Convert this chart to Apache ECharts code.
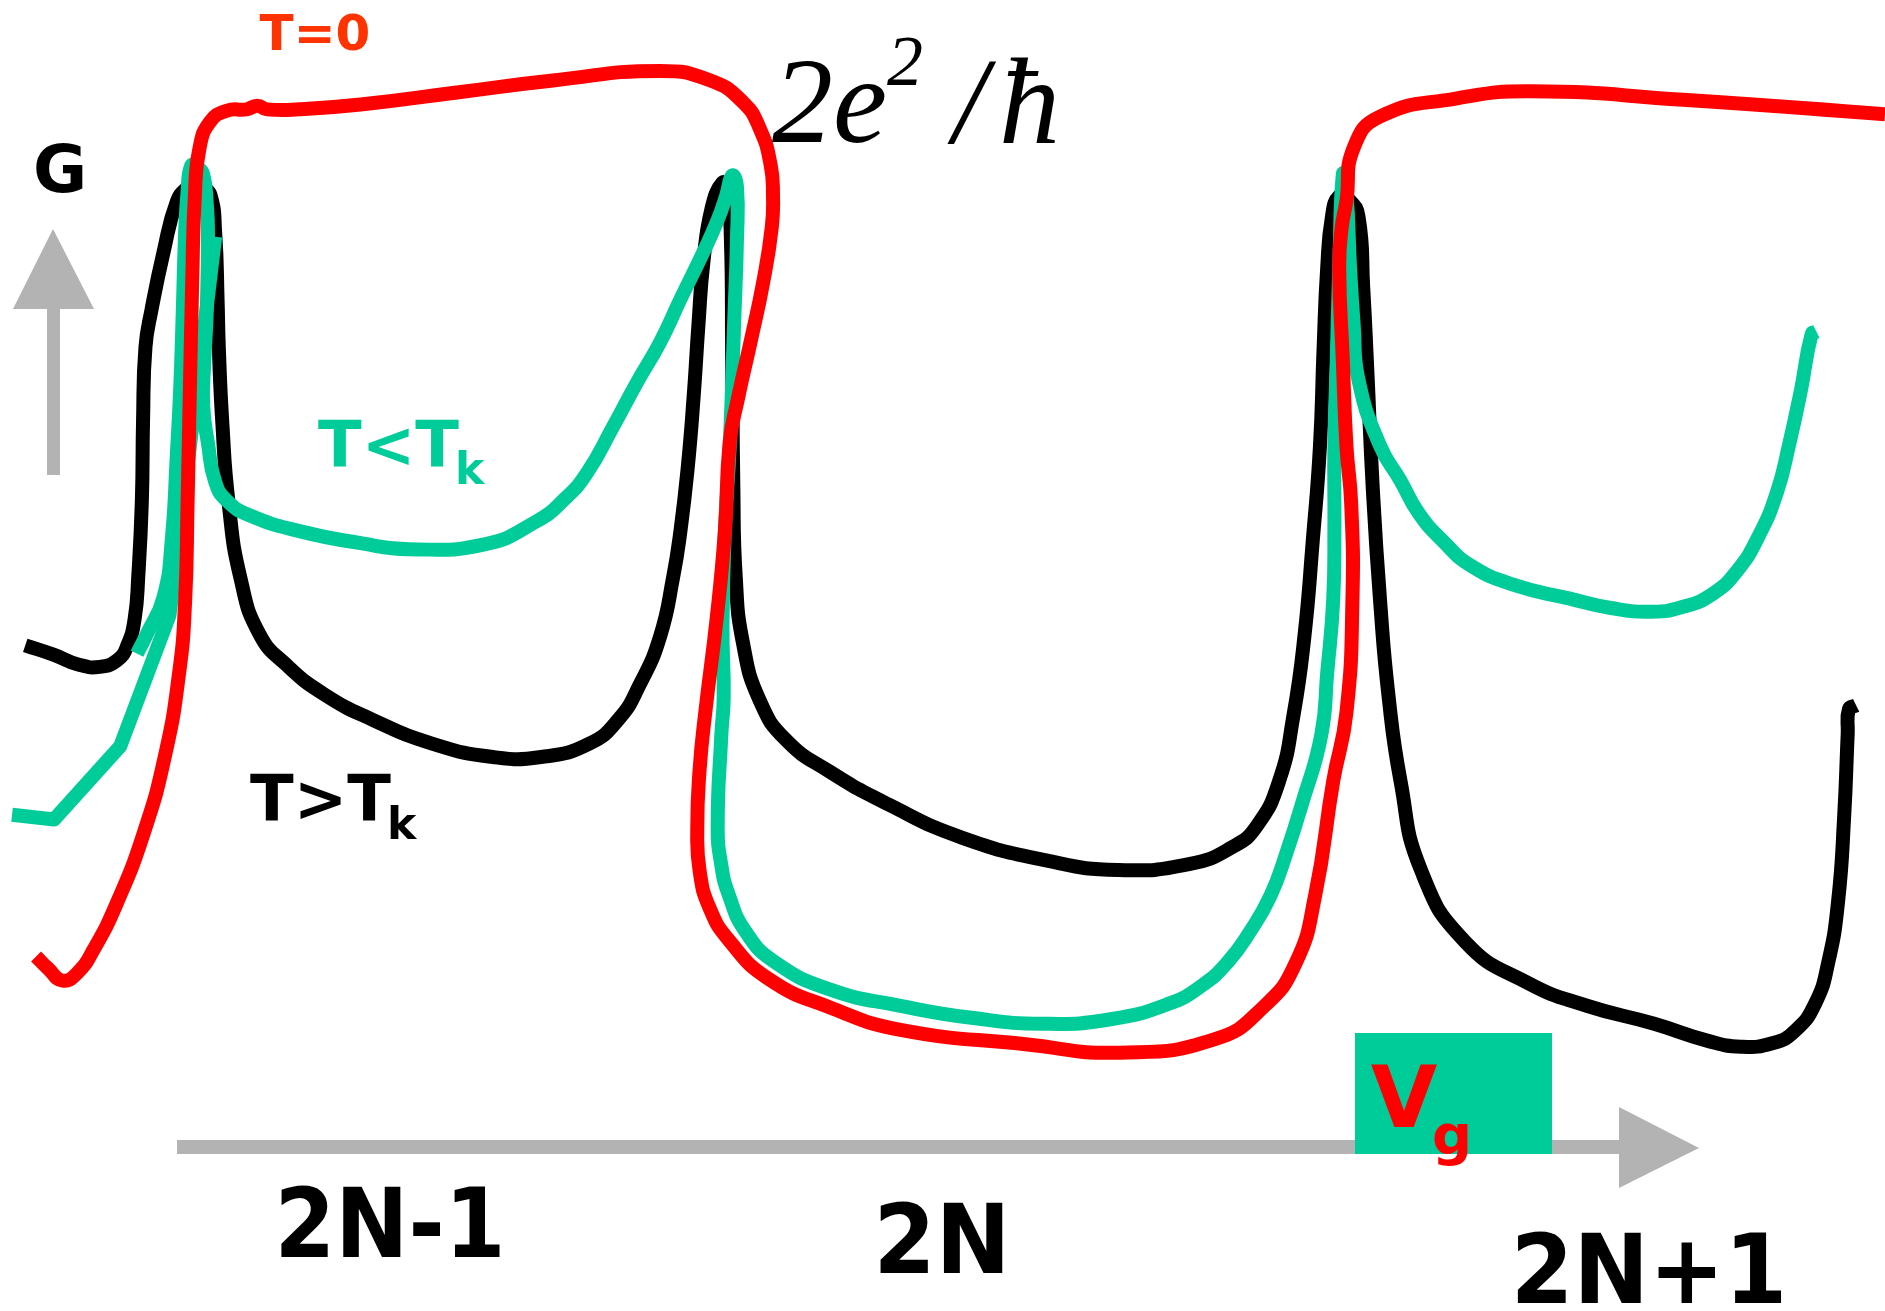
<!DOCTYPE html>
<html>
<head>
<meta charset="utf-8">
<script src="https://cdn.jsdelivr.net/npm/echarts@6/dist/echarts.min.js"></script>
<style>
html,body{margin:0;padding:0;background:#fff;}
#chart{width:1885px;height:1311px;}
</style>
</head>
<body>
<div id="chart"></div>
<script>
// Schematic coordinates: x = gate voltage (arbitrary units 0..1568), y = conductance drawn top-down (0..1091)
const blackCurve = [[21,537],[45,545],[65,553],[83,555],[98,549],[106,537],[112,515],[115,480],[118,417],[119,350],[121,289],[126,258],[136,210],[147,168],[156,156],[162,154],[168,156],[175,162],[179,194],[181,250],[182,289],[185,353],[190,417],[200,481],[216,528],[239,554],[270,578],[310,599],[360,619],[410,630],[450,630],[490,619],[515,598],[532,570],[549,530],[560,480],[566,442],[572,390],[577,330],[581,270],[585,219],[592,173],[601,152],[605,158],[608,200],[609,293],[610,404],[612,480],[618,535],[632,583],[654,616],[690,642],[740,670],[800,697],[870,716],[930,724],[990,719],[1025,705],[1045,688],[1064,650],[1076,595],[1085,530],[1092,450],[1098,371],[1101,290],[1104,223],[1108,180],[1114,163],[1122,166],[1130,180],[1134,240],[1137,300],[1142,408],[1148,500],[1155,579],[1165,650],[1182,724],[1219,784],[1271,818],[1320,837],[1376,852],[1420,866],[1448,871],[1475,868],[1493,858],[1510,835],[1521,800],[1529,750],[1534,680],[1537,610],[1538,590],[1544,587]];
const redCurve = [[30,796],[40,806],[52,816],[64,810],[78,790],[97,752],[119,695],[137,630],[149,560],[154,500],[156,420],[158,321],[160,230],[162,165],[166,123],[175,101],[189,92],[205,91],[214,88],[222,91],[249,91],[300,87],[380,77],[460,67],[549,59],[591,67],[618,85],[632,107],[641,137],[643,163],[642,189],[635,234],[624,286],[614,331],[607,368],[603,442],[596,516],[587,590],[582,640],[580,690],[582,725],[590,755],[606,782],[640,815],[692,839],[749,857],[853,869],[932,876],[1010,865],[1051,838],[1078,801],[1094,745],[1109,650],[1120,593],[1125,499],[1124,420],[1120,371],[1117,300],[1114,223],[1116,190],[1120,167],[1126,123],[1148,97],[1211,82],[1274,76],[1400,83],[1568,95]];
const greenCurve = [[114,544],[122,528],[136,497],[143,448],[147,380],[150,321],[152,260],[154,194],[156,160],[159,138],[164,139],[169,145],[172,170],[173,194],[172,258],[170,300],[169,337],[173,369],[179,401],[189,417],[208,429],[249,442],[300,452],[340,457],[403,453],[446,434],[470,415],[488,394],[510,355],[530,318],[549,285],[566,249],[585,210],[597,183],[604,163],[609,146],[613,155],[613,200],[611,260],[607,371],[603,440],[601,520],[602,580],[600,612],[597,688],[600,720],[606,744],[620,775],[645,801],[692,824],[749,837],[808,847],[868,852],[925,848],[973,835],[1000,820],[1021,801],[1040,775],[1057,745],[1070,710],[1083,669],[1099,612],[1104,560],[1109,499],[1110,440],[1110,371],[1112,300],[1114,223],[1117,145],[1120,160],[1123,223],[1126,270],[1130,316],[1148,371],[1165,400],[1180,427],[1200,450],[1224,471],[1260,487],[1305,498],[1340,506],[1374,509],[1400,505],[1425,494],[1445,475],[1463,446],[1478,410],[1488,371],[1498,325],[1507,278],[1511,276]];
const greenLeg = [[10,678],[45,682],[100,621],[141,512],[179,197]];
const tickLabels = ['2N-1', '2N', '2N+1'];

const GRAY = '#b3b3b3', GREEN = '#00cc99', RED = '#ff0000';
const chart = echarts.init(document.getElementById('chart'), null, {renderer: 'canvas'});

// Chord-weighted cardinal spline through pixel points -> SVG path data
function curvePath(pts, s) {
  const n = pts.length;
  const dist = (a, b) => Math.hypot(a[0] - b[0], a[1] - b[1]);
  let d = 'M' + pts[0][0] + ' ' + pts[0][1];
  for (let i = 0; i < n - 1; i++) {
    const p0 = pts[Math.max(i - 1, 0)], p1 = pts[i], p2 = pts[i + 1], p3 = pts[Math.min(i + 2, n - 1)];
    if (s === 0) { d += ' L' + p2[0] + ' ' + p2[1]; continue; }
    const d01 = dist(p0, p1), d12 = dist(p1, p2), d23 = dist(p2, p3);
    const r1 = (d01 + d12) ? d12 / (d01 + d12) : 0;
    const r2 = (d12 + d23) ? d12 / (d12 + d23) : 0;
    const c1x = p1[0] + (p2[0] - p0[0]) * s * r1, c1y = p1[1] + (p2[1] - p0[1]) * s * r1;
    const c2x = p2[0] - (p3[0] - p1[0]) * s * r2, c2y = p2[1] - (p3[1] - p1[1]) * s * r2;
    d += ' C' + c1x + ' ' + c1y + ' ' + c2x + ' ' + c2y + ' ' + p2[0] + ' ' + p2[1];
  }
  return d;
}
function curve(data, color, width, s, z) {
  return {
    type: 'custom', data: data, encode: {x: 0, y: 1}, clip: false, silent: true, z: z,
    renderItem: function (params, api) {
      if (params.dataIndex !== 0) return null;
      const px = data.map(p => api.coord(p));
      return {type: 'path', shape: {pathData: curvePath(px, s)},
        style: {fill: 'none', stroke: color, lineWidth: width, lineJoin: 'round', lineCap: 'butt'}};
    }
  };
}
function txt(t, x, y, font, fill, align, sx) {
  return {type: 'text', x: x, y: y, z: 100, silent: true, scaleX: sx || 1,
    style: {text: t, font: font, fill: fill, align: align || 'left', verticalAlign: 'middle',
            textAlign: align || 'left', textVerticalAlign: 'middle'}};
}
const B = '"DejaVu Sans", sans-serif';
const S = '"Liberation Serif", "DejaVu Serif", serif';

chart.setOption({
  animation: false,
  backgroundColor: '#ffffff',
  grid: {left: 0, right: 0, top: 0, bottom: 0},
  xAxis: {type: 'value', min: 0, max: 1568, show: false},
  yAxis: {type: 'value', min: 0, max: 1091, inverse: true, show: false},
  series: [
    curve(blackCurve, '#000000', 14, 0.5, 2),
    curve(greenLeg, GREEN, 14, 0, 3),
    curve(greenCurve, GREEN, 14, 0.5, 3),
    curve(redCurve, RED, 14, 0.5, 4)
  ],
  graphic: [
    {type: 'rect', z: 50, shape: {x: 47, y: 305, width: 13, height: 170}, style: {fill: GRAY}},
    {type: 'polygon', z: 50, shape: {points: [[53, 229], [13, 309], [94, 309]]}, style: {fill: GRAY}},
    {type: 'rect', z: 50, shape: {x: 177, y: 1140, width: 1446, height: 14}, style: {fill: GRAY}},
    {type: 'polygon', z: 50, shape: {points: [[1619, 1107], [1699, 1148], [1619, 1188]]}, style: {fill: GRAY}},
    {type: 'rect', z: 60, shape: {x: 1355, y: 1033, width: 197, height: 121}, style: {fill: GREEN}},
    txt('V', 1404, 1105, 'bold 86px ' + B, RED, 'center'),
    txt('g', 1432, 1139, 'bold 56px ' + B, RED, 'left'),
    txt('T=0', 315, 37, 'bold 50px ' + B, '#ff3300', 'center'),
    txt('G', 60, 175, 'bold 66px ' + B, '#000000', 'center'),
    txt('T<T', 318, 450, 'bold 64px ' + B, GREEN, 'left'),
    txt('k', 455, 473, 'bold 44px ' + B, GREEN, 'left'),
    txt('T>T', 250, 804, 'bold 64px ' + B, '#000000', 'left'),
    txt('k', 387, 828, 'bold 44px ' + B, '#000000', 'left'),
    txt('2e', 772, 110, 'italic 122px ' + S, '#000000', 'left'),
    txt('2', 887, 66, 'italic 72px ' + S, '#000000', 'left'),
    txt('/', 953, 111, 'italic 122px ' + S, '#000000', 'left'),
    txt('\u0127', 999, 111, 'italic 122px ' + S, '#000000', 'left'),
    txt(tickLabels[0], 390, 1232, 'bold 97px ' + B, '#000000', 'center', 0.9),
    txt(tickLabels[1], 942, 1248, 'bold 97px ' + B, '#000000', 'center', 0.92),
    txt(tickLabels[2], 1649, 1278, 'bold 97px ' + B, '#000000', 'center', 0.93)
  ]
});
</script>
</body>
</html>
